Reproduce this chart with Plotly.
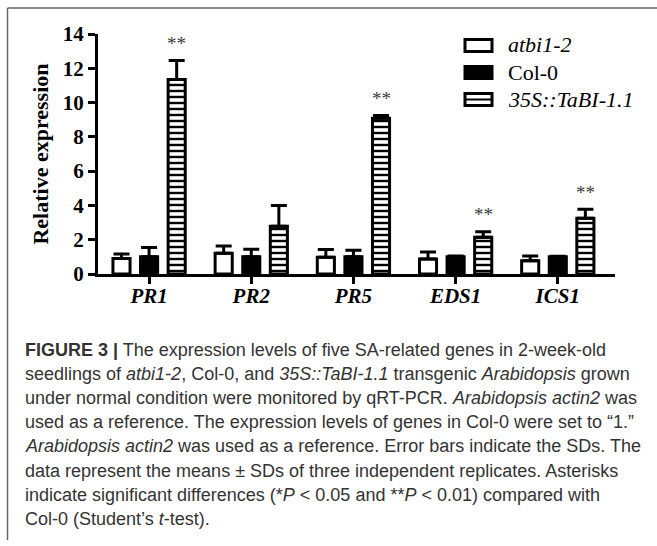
import plotly.graph_objects as go

genes = ["PR1", "PR2", "PR5", "EDS1", "ICS1"]
tick_labels = ["<i>PR1</i>", "<i>PR2</i>", "<i>PR5</i>", "<i>EDS1</i>", "<i>ICS1</i>"]
series_names = ["atbi1-2", "Col-0", "35S::TaBI-1.1"]

atbi_vals = [0.91, 1.21, 0.98, 0.88, 0.78]
atbi_err = [0.25, 0.42, 0.45, 0.40, 0.27]
col_vals = [1.0, 1.0, 1.0, 1.0, 1.0]
col_err = [0.55, 0.45, 0.38, 0.05, 0.03]
tabi_vals = [11.35, 2.78, 9.08, 2.14, 3.25]
tabi_err = [1.10, 1.22, 0.16, 0.33, 0.53]
tabi_sig = ["**", "", "**", "**", "**"]

y_ticks = [0, 2, 4, 6, 8, 10, 12, 14]

caption_lines = [
    "<b>FIGURE 3 |</b> The expression levels of five SA-related genes in 2-week-old",
    "seedlings of <i>atbi1-2</i>, Col-0, and <i>35S::TaBI-1.1</i> transgenic <i>Arabidopsis</i> grown",
    "under normal condition were monitored by qRT-PCR. <i>Arabidopsis actin2</i> was",
    "used as a reference. The expression levels of genes in Col-0 were set to \u201c1.\u201d",
    "<i>Arabidopsis actin2</i> was used as a reference. Error bars indicate the SDs. The",
    "data represent the means \u00b1 SDs of three independent replicates. Asterisks",
    "indicate significant differences (*<i>P</i> &lt; 0.05 and **<i>P</i> &lt; 0.01) compared with",
    "Col-0 (Student\u2019s <i>t</i>-test).",
]

W, H = 657, 546
ML, MR, MT, MB = 98, 42, 34, 272
PW, PH = W - ML - MR, H - MT - MB


def px(x):
    return (x - ML) / PW


def py(y):
    return (H - MB - y) / PH


SERIF = "Liberation Serif"
BARGAP = 0.19

fig = go.Figure()
err_common = dict(type="data", symmetric=False, color="black", thickness=3, width=8)

fig.add_trace(go.Bar(
    x=genes, y=atbi_vals, name=series_names[0],
    marker=dict(color="white", line=dict(color="black", width=3)),
    error_y=dict(array=atbi_err, arrayminus=[0] * len(genes), **err_common),
    showlegend=False,
))
fig.add_trace(go.Bar(
    x=genes, y=col_vals, name=series_names[1],
    marker=dict(color="black", line=dict(color="black", width=3)),
    error_y=dict(array=col_err, arrayminus=[0] * len(genes), **err_common),
    showlegend=False,
))
fig.add_trace(go.Bar(
    x=genes, y=tabi_vals, name=series_names[2],
    marker=dict(color="white", line=dict(color="black", width=3),
                pattern=dict(shape="-", fgcolor="black", bgcolor="white",
                             size=6, solidity=0.4, fillmode="replace")),
    error_y=dict(array=tabi_err, arrayminus=[0] * len(genes), **err_common),
    showlegend=False,
))

# significance marks above the third bar of each group
offset = (1 - BARGAP) / 3
annotations = []
for i, (v, e, s) in enumerate(zip(tabi_vals, tabi_err, tabi_sig)):
    if s:
        annotations.append(dict(
            x=i + offset, y=v + e, xref="x", yref="y", text=s, showarrow=False,
            yanchor="middle", yshift=17,
            font=dict(family=SERIF, size=19, color="#3a3a3a"),
        ))

# manual legend
leg_y = [45.5, 72.5, 99.5]
leg_text = ["<i>atbi1-2</i>", "Col-0", "<i>35S::TaBI-1.1</i>"]
shapes = []
bx0, bx1 = 465, 492
for k, yc in enumerate(leg_y):
    fill = "black" if k == 1 else "white"
    shapes.append(dict(type="rect", xref="paper", yref="paper",
                       x0=px(bx0), x1=px(bx1), y0=py(yc + 6), y1=py(yc - 6),
                       line=dict(color="black", width=3), fillcolor=fill))
    if k == 2:
        shapes.append(dict(type="line", xref="paper", yref="paper",
                           x0=px(bx0), x1=px(bx1), y0=py(yc), y1=py(yc),
                           line=dict(color="black", width=2)))
    annotations.append(dict(
        x=px(506), y=py(yc - 0.5), xref="paper", yref="paper", text=leg_text[k],
        showarrow=False, xanchor="left", yanchor="middle",
        font=dict(family=SERIF, size=22, color="black"),
    ))

# frame lines
shapes.append(dict(type="line", xref="paper", yref="paper",
                   x0=px(7.5), x1=px(657), y0=py(8), y1=py(8),
                   line=dict(color="#666", width=1.5)))
shapes.append(dict(type="line", xref="paper", yref="paper",
                   x0=px(7.5), x1=px(7.5), y0=py(8), y1=py(540),
                   line=dict(color="#666", width=1.5)))

# caption
for k, line in enumerate(caption_lines):
    annotations.append(dict(
        x=px(23), y=py(350 + 24.1 * k), xref="paper", yref="paper", text=line,
        showarrow=False, xanchor="left", yanchor="middle", align="left",
        font=dict(family="Liberation Sans", size=18, color="#333"),
    ))

fig.update_layout(
    width=W, height=H, autosize=False,
    margin=dict(l=ML, r=MR, t=MT, b=MB, pad=0),
    paper_bgcolor="white", plot_bgcolor="white",
    barmode="group", bargap=BARGAP, bargroupgap=0.38,
    shapes=shapes, annotations=annotations,
    xaxis=dict(
        range=[-0.5, 4.56], tickvals=genes, ticktext=tick_labels,
        showline=True, linecolor="black", linewidth=3,
        ticks="outside", ticklen=7, tickwidth=3, tickcolor="black",
        ticklabelstandoff=-6,
        tickfont=dict(family=SERIF, size=21, color="black", weight="bold"),
        showgrid=False, zeroline=False, fixedrange=True,
    ),
    yaxis=dict(
        range=[0, 14], tickvals=y_ticks,
        showline=True, linecolor="black", linewidth=3,
        ticks="outside", ticklen=7, tickwidth=3, tickcolor="black",
        tickfont=dict(family=SERIF, size=21, color="black", weight="bold"),
        title=dict(text="Relative expression", standoff=9,
                   font=dict(family=SERIF, size=22, color="black", weight="bold")),
        showgrid=False, zeroline=False, fixedrange=True,
    ),
)

fig.write_html(
    "out.html",
    config={"displayModeBar": False},
    post_script="document.body.style.margin='0';document.body.style.overflow='hidden';",
)
